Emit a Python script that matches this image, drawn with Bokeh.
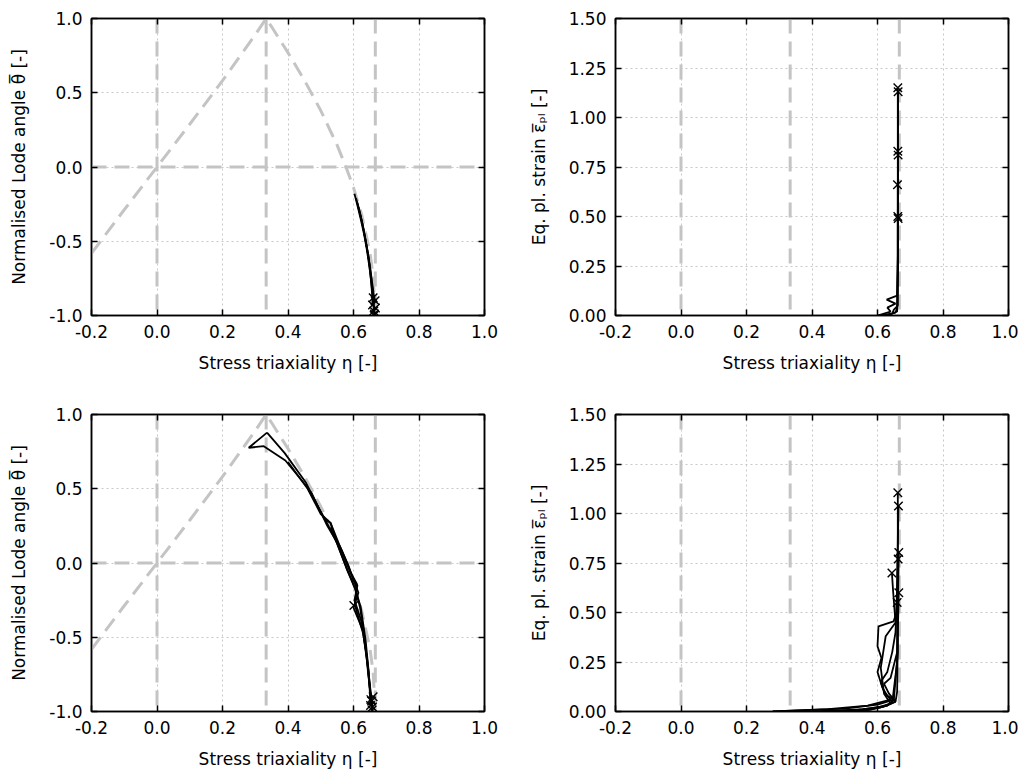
from bokeh.plotting import figure
from bokeh.layouts import gridplot
from bokeh.models import (Range1d, FixedTicker, NumeralTickFormatter, LinearAxis, Span,
                          CustomJSTickFormatter)
from bokeh.embed import file_html
from bokeh.resources import INLINE

# ---------------- data ----------------
x_ticks = [-0.2, 0.0, 0.2, 0.4, 0.6, 0.8, 1.0]
lode_ticks = [-1.0, -0.5, 0.0, 0.5, 1.0]
strain_ticks = [0.0, 0.25, 0.5, 0.75, 1.0, 1.25, 1.5]

# reference lines (uniaxial / plane strain / biaxial triaxialities)
ref_eta = [0.0, 1 / 3, 2 / 3]
ref_theta = [0.0]

# plane-stress reference curve
ps_eta = [-0.2, -0.1, 0.0, 0.1, 0.2, 0.3, 0.3333, 0.35, 0.4, 0.45, 0.5, 0.55, 0.577, 0.6, 0.625, 0.65, 0.66, 0.6667]
ps_theta = [-0.581, -0.288, 0.0, 0.288, 0.581, 0.891, 1.0, 0.944, 0.770, 0.585, 0.380, 0.147, 0.0, -0.139, -0.321, -0.573, -0.735, -1.0]

# top row: specimen A -- Lode angle vs triaxiality
tl_eta_1 = [0.603, 0.612, 0.622, 0.632, 0.641, 0.649, 0.655, 0.660, 0.662]
tl_theta_1 = [-0.18, -0.26, -0.35, -0.45, -0.56, -0.68, -0.79, -0.90, -0.97]
tl_eta_2 = [0.608, 0.617, 0.627, 0.636, 0.645, 0.652, 0.658, 0.662, 0.664]
tl_theta_2 = [-0.21, -0.29, -0.38, -0.48, -0.59, -0.71, -0.82, -0.92, -0.99]
tl_eta_3 = [0.612, 0.621, 0.630, 0.639, 0.647, 0.653, 0.657, 0.658]
tl_theta_3 = [-0.24, -0.32, -0.41, -0.52, -0.63, -0.75, -0.86, -0.93]
tl_eta_4 = [0.615, 0.625, 0.634, 0.643, 0.651, 0.657, 0.662, 0.666]
tl_theta_4 = [-0.27, -0.36, -0.46, -0.57, -0.68, -0.78, -0.86, -0.90]
tl_fail_eta = [0.662, 0.664, 0.658, 0.666, 0.660, 0.667, 0.663]
tl_fail_theta = [-0.97, -0.99, -0.93, -0.90, -0.88, -0.95, -1.00]

# top row: specimen A -- equivalent plastic strain vs triaxiality
tr_eta_1 = [0.600, 0.640, 0.630, 0.655, 0.628, 0.660, 0.662, 0.662, 0.662]
tr_strain_1 = [0.0, 0.02, 0.04, 0.06, 0.08, 0.10, 0.30, 0.70, 1.15]
tr_eta_2 = [0.610, 0.645, 0.650, 0.662, 0.662, 0.663]
tr_strain_2 = [0.0, 0.01, 0.03, 0.05, 0.40, 1.13]
tr_eta_3 = [0.620, 0.655, 0.660, 0.663, 0.663]
tr_strain_3 = [0.0, 0.015, 0.04, 0.30, 0.83]
tr_eta_4 = [0.630, 0.660, 0.662, 0.662]
tr_strain_4 = [0.0, 0.02, 0.30, 0.66]
tr_fail_eta = [0.662, 0.663, 0.662, 0.663, 0.661, 0.662, 0.663]
tr_fail_strain = [1.15, 1.13, 0.83, 0.81, 0.66, 0.50, 0.49]

# bottom row: specimen B -- Lode angle vs triaxiality
bl_eta_1 = [0.336, 0.280, 0.326, 0.392, 0.459, 0.515, 0.551, 0.581, 0.607, 0.622, 0.637, 0.647, 0.652]
bl_theta_1 = [0.878, 0.776, 0.787, 0.690, 0.510, 0.286, 0.129, -0.050, -0.185, -0.297, -0.520, -0.746, -0.960]
bl_eta_2 = [0.336, 0.390, 0.455, 0.510, 0.530, 0.548, 0.580, 0.605, 0.620, 0.635, 0.645, 0.655]
bl_theta_2 = [0.878, 0.740, 0.540, 0.300, 0.270, 0.140, -0.040, -0.170, -0.300, -0.520, -0.750, -0.930]
bl_eta_3 = [0.400, 0.460, 0.500, 0.530, 0.555, 0.585, 0.600, 0.612, 0.603, 0.625, 0.640, 0.650, 0.657]
bl_theta_3 = [0.680, 0.500, 0.330, 0.270, 0.130, -0.020, -0.120, -0.150, -0.250, -0.400, -0.620, -0.850, -0.990]
bl_eta_4 = [0.470, 0.520, 0.560, 0.590, 0.610, 0.605, 0.630, 0.645, 0.653]
bl_theta_4 = [0.480, 0.250, 0.100, -0.060, -0.140, -0.290, -0.480, -0.720, -0.920]
bl_eta_5 = [0.530, 0.565, 0.595, 0.615, 0.600, 0.628, 0.642, 0.650, 0.658]
bl_theta_5 = [0.240, 0.080, -0.080, -0.200, -0.300, -0.450, -0.650, -0.820, -0.970]
bl_fail_eta = [0.652, 0.655, 0.657, 0.653, 0.658, 0.601, 0.660]
bl_fail_theta = [-0.96, -0.93, -0.99, -0.92, -0.97, -0.286, -0.90]

# bottom row: specimen B -- equivalent plastic strain vs triaxiality
br_eta_1 = [0.280, 0.450, 0.570, 0.640, 0.620, 0.610, 0.630, 0.645, 0.655, 0.660, 0.662, 0.662]
br_strain_1 = [0.0, 0.012, 0.030, 0.060, 0.100, 0.150, 0.200, 0.300, 0.400, 0.600, 0.900, 1.105]
br_eta_2 = [0.280, 0.500, 0.600, 0.650, 0.630, 0.615, 0.600, 0.612, 0.600, 0.603, 0.649, 0.658, 0.662, 0.664]
br_strain_2 = [0.0, 0.015, 0.035, 0.060, 0.080, 0.120, 0.200, 0.270, 0.330, 0.430, 0.455, 0.500, 0.800, 1.038]
br_eta_3 = [0.400, 0.550, 0.630, 0.655, 0.635, 0.620, 0.640, 0.660, 0.665]
br_strain_3 = [0.0, 0.010, 0.030, 0.050, 0.090, 0.140, 0.170, 0.300, 0.803]
br_eta_4 = [0.470, 0.580, 0.640, 0.620, 0.610, 0.625, 0.655, 0.648, 0.644]
br_strain_4 = [0.0, 0.010, 0.040, 0.090, 0.220, 0.380, 0.450, 0.600, 0.700]
br_eta_5 = [0.530, 0.610, 0.655, 0.660, 0.662, 0.665]
br_strain_5 = [0.0, 0.020, 0.050, 0.100, 0.400, 0.600]
br_eta_6 = [0.550, 0.630, 0.650, 0.662, 0.660]
br_strain_6 = [0.0, 0.030, 0.060, 0.300, 0.550]
br_eta_7 = [0.500, 0.620, 0.645, 0.660, 0.663]
br_strain_7 = [0.0, 0.025, 0.045, 0.250, 0.770]
br_fail_eta = [0.662, 0.664, 0.665, 0.663, 0.644, 0.665, 0.660]
br_fail_strain = [1.105, 1.038, 0.803, 0.770, 0.700, 0.600, 0.550]

# ---------------- styling helpers ----------------
FONT = "DejaVu Sans"
FONT_SIZE = "17px"
REF_COLOR = "#c4c4c4"
REF_DASH = "15 8"
X_LABEL = "Stress triaxiality η [-]"
LODE_LABEL = "Normalised Lode angle θ̅ [-]"
STRAIN_LABEL = "Eq. pl. strain ε̅ₚₗ [-]"


def style_axis(ax):
    ax.axis_line_color = "black"
    ax.axis_line_width = 1.5
    ax.major_tick_in = 6
    ax.major_tick_out = 0
    ax.major_tick_line_color = "black"
    ax.major_tick_line_width = 1.5
    ax.minor_tick_line_color = None
    ax.major_label_text_color = "black"
    ax.major_label_text_font = FONT
    ax.major_label_text_font_size = FONT_SIZE
    ax.axis_label_text_font = FONT
    ax.axis_label_text_font_style = "normal"
    ax.axis_label_text_color = "black"
    ax.axis_label_text_font_size = FONT_SIZE


def make_fig(y_range, y_ticks, y_fmt, y_label, b_left, b_right, b_top, b_bottom):
    p = figure(frame_width=393, frame_height=297,
               x_range=Range1d(-0.2, 1.0), y_range=Range1d(*y_range),
               x_axis_location=None, y_axis_location=None,
               output_backend="svg", toolbar_location=None,
               min_border_left=b_left, min_border_right=b_right,
               min_border_top=b_top, min_border_bottom=b_bottom)
    p.background_fill_color = "white"
    p.border_fill_color = "white"
    p.outline_line_color = "black"
    p.outline_line_width = 1.5

    bottom = LinearAxis(ticker=FixedTicker(ticks=x_ticks),
                        formatter=NumeralTickFormatter(format="0.0"), axis_label=X_LABEL)
    left = LinearAxis(ticker=FixedTicker(ticks=y_ticks),
                      formatter=NumeralTickFormatter(format=y_fmt), axis_label=y_label)
    empty = CustomJSTickFormatter(code="return ''")
    top = LinearAxis(ticker=FixedTicker(ticks=x_ticks), formatter=empty)
    right = LinearAxis(ticker=FixedTicker(ticks=y_ticks), formatter=empty)
    for ax in (bottom, left, top, right):
        style_axis(ax)
    bottom.major_label_standoff = 9
    bottom.axis_label_standoff = 12
    left.major_label_standoff = 9
    left.axis_label_standoff = 17
    for ax in (top, right):
        ax.major_label_standoff = 0
        ax.major_label_text_font_size = "1px"
    p.add_layout(bottom, "below")
    p.add_layout(left, "left")
    p.add_layout(top, "above")
    p.add_layout(right, "right")

    p.grid.grid_line_color = "#c8c8c8"
    p.grid.grid_line_dash = "2 3"
    p.grid.grid_line_width = 1
    p.xgrid.ticker = FixedTicker(ticks=x_ticks)
    p.ygrid.ticker = FixedTicker(ticks=y_ticks)
    for e in ref_eta:
        p.add_layout(Span(location=e, dimension="height", line_color=REF_COLOR,
                          line_width=3, line_dash=REF_DASH, level="underlay"))
    return p


def add_lode_refs(p):
    for t in ref_theta:
        p.add_layout(Span(location=t, dimension="width", line_color=REF_COLOR,
                          line_width=3, line_dash=REF_DASH, level="underlay"))
    p.line(ps_eta, ps_theta, line_color=REF_COLOR, line_width=3, line_dash=REF_DASH)


def add_series(p, xs_list, ys_list, fx, fy):
    for xs, ys in zip(xs_list, ys_list):
        p.line(xs, ys, line_color="black", line_width=1.8)
    p.scatter(fx, fy, marker="x", size=12, line_color="black", line_width=1.4)


# ---------------- panels ----------------
p1 = make_fig((-1.0, 1.0), lode_ticks, "0.0", LODE_LABEL, 91, 26, 18, 75)
add_lode_refs(p1)
add_series(p1, [tl_eta_1, tl_eta_2, tl_eta_3, tl_eta_4],
           [tl_theta_1, tl_theta_2, tl_theta_3, tl_theta_4], tl_fail_eta, tl_fail_theta)

p2 = make_fig((0.0, 1.5), strain_ticks, "0.00", STRAIN_LABEL, 105, 10, 18, 75)
add_series(p2, [tr_eta_1, tr_eta_2, tr_eta_3, tr_eta_4],
           [tr_strain_1, tr_strain_2, tr_strain_3, tr_strain_4], tr_fail_eta, tr_fail_strain)

p3 = make_fig((-1.0, 1.0), lode_ticks, "0.0", LODE_LABEL, 91, 26, 24, 56)
add_lode_refs(p3)
add_series(p3, [bl_eta_1, bl_eta_2, bl_eta_3, bl_eta_4, bl_eta_5],
           [bl_theta_1, bl_theta_2, bl_theta_3, bl_theta_4, bl_theta_5], bl_fail_eta, bl_fail_theta)

p4 = make_fig((0.0, 1.5), strain_ticks, "0.00", STRAIN_LABEL, 105, 10, 24, 56)
add_series(p4, [br_eta_1, br_eta_2, br_eta_3, br_eta_4, br_eta_5, br_eta_6, br_eta_7],
           [br_strain_1, br_strain_2, br_strain_3, br_strain_4, br_strain_5, br_strain_6, br_strain_7],
           br_fail_eta, br_fail_strain)

grid = gridplot([[p1, p2], [p3, p4]], toolbar_location=None)

open("out.html", "w").write(file_html(grid, INLINE))
